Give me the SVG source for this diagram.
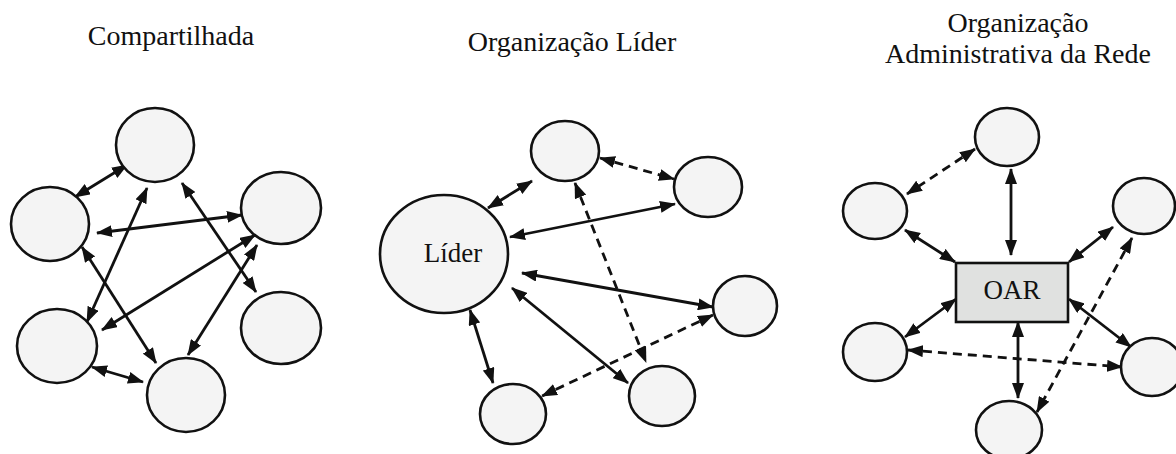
<svg xmlns="http://www.w3.org/2000/svg" width="1176" height="454" viewBox="0 0 1176 454">
<style>
.node{fill:#f4f4f4;stroke:#111;stroke-width:2.6}
.box{fill:#e0e1e0;stroke:#111;stroke-width:2.6}
.c{stroke:#111;stroke-width:2.8;fill:none;marker-start:url(#ah);marker-end:url(#ah)}
.d{stroke-dasharray:9 6}
</style>
<defs>
<marker id="ah" markerUnits="userSpaceOnUse" viewBox="0 0 16 12" refX="15" refY="6" markerWidth="16" markerHeight="12" orient="auto-start-reverse">
<path d="M0,0 L16,6 L0,12 Z" fill="#111"/>
</marker>
</defs>
<rect width="1176" height="454" fill="#fff"/>
<g id="titles" fill="#111" text-anchor="middle" font-size="28">
<text x="171" y="45" style="font-family:'Liberation Serif',serif">Compartilhada</text>
<text x="572" y="51" style="font-family:'Liberation Serif',serif">Organização Líder</text>
<text x="1018" y="32" style="font-family:'Liberation Serif',serif">Organização</text>
<text x="1018" y="63" style="font-family:'Liberation Serif',serif">Administrativa da Rede</text>
</g>
<g id="connectors">
<line class="c" x1="127" y1="165" x2="75" y2="197"/>
<line class="c" x1="147" y1="188" x2="87" y2="322"/>
<line class="c" x1="182" y1="183" x2="256" y2="292"/>
<line class="c" x1="97" y1="233" x2="242" y2="215"/>
<line class="c" x1="82" y1="247" x2="156" y2="363"/>
<line class="c" x1="255" y1="235" x2="102" y2="330"/>
<line class="c" x1="257" y1="245" x2="188" y2="355"/>
<line class="c" x1="92" y1="367" x2="143" y2="382"/>
<line class="c" x1="488" y1="208" x2="532" y2="181"/>
<line class="c d" x1="600" y1="158" x2="674" y2="179"/>
<line class="c" x1="510" y1="237" x2="675" y2="204"/>
<line class="c d" x1="575" y1="183" x2="646" y2="362"/>
<line class="c" x1="522" y1="273" x2="713" y2="307"/>
<line class="c d" x1="713" y1="315" x2="542" y2="396"/>
<line class="c" x1="512" y1="288" x2="628" y2="383"/>
<line class="c" x1="470" y1="310" x2="493" y2="383"/>
<line class="c d" x1="975" y1="149" x2="907" y2="194"/>
<line class="c" x1="1011" y1="169" x2="1011" y2="255"/>
<line class="c" x1="905" y1="230" x2="955" y2="262"/>
<line class="c" x1="1113" y1="227" x2="1069" y2="262"/>
<line class="c d" x1="1132" y1="238" x2="1037" y2="412"/>
<line class="c" x1="905" y1="337" x2="956" y2="299"/>
<line class="c" x1="1069" y1="299" x2="1131" y2="347"/>
<line class="c" x1="1018" y1="322" x2="1018" y2="398"/>
<line class="c d" x1="908" y1="350" x2="1122" y2="367"/>
</g>
<g id="p1-top"><ellipse class="node" cx="155" cy="145" rx="39" ry="37"/></g>
<g id="p1-left"><ellipse class="node" cx="50" cy="224" rx="39" ry="37"/></g>
<g id="p1-righttop"><ellipse class="node" cx="281" cy="208" rx="40" ry="36"/></g>
<g id="p1-rightbottom"><ellipse class="node" cx="281" cy="328" rx="40" ry="36"/></g>
<g id="p1-bottomleft"><ellipse class="node" cx="57" cy="346" rx="40" ry="37"/></g>
<g id="p1-bottom"><ellipse class="node" cx="186" cy="395" rx="39" ry="37"/></g>
<g id="p2-lider"><ellipse class="node" cx="444" cy="254" rx="64" ry="59"/><text x="453" y="262" fill="#111" text-anchor="middle" font-size="27" style="font-family:'Liberation Serif',serif">Líder</text></g>
<g id="p2-top"><ellipse class="node" cx="565" cy="151" rx="34" ry="30"/></g>
<g id="p2-righttop"><ellipse class="node" cx="708" cy="187" rx="34" ry="30"/></g>
<g id="p2-rightmid"><ellipse class="node" cx="745" cy="306" rx="32" ry="30"/></g>
<g id="p2-bottomleft"><ellipse class="node" cx="513" cy="414" rx="33" ry="30"/></g>
<g id="p2-bottomright"><ellipse class="node" cx="662" cy="396" rx="33" ry="30"/></g>
<g id="p3-oar"><rect class="box" x="956" y="263" width="112" height="59"/><text x="1012" y="299" fill="#111" text-anchor="middle" font-size="27" style="font-family:'Liberation Serif',serif">OAR</text></g>
<g id="p3-top"><ellipse class="node" cx="1007" cy="137" rx="32" ry="29"/></g>
<g id="p3-lefttop"><ellipse class="node" cx="875" cy="211" rx="32" ry="28"/></g>
<g id="p3-righttop"><ellipse class="node" cx="1144" cy="206" rx="31" ry="28"/></g>
<g id="p3-leftbottom"><ellipse class="node" cx="875" cy="352" rx="32" ry="29"/></g>
<g id="p3-rightbottom"><ellipse class="node" cx="1152" cy="367" rx="31" ry="29"/></g>
<g id="p3-bottom"><ellipse class="node" cx="1009" cy="430" rx="33" ry="29"/></g>
</svg>
